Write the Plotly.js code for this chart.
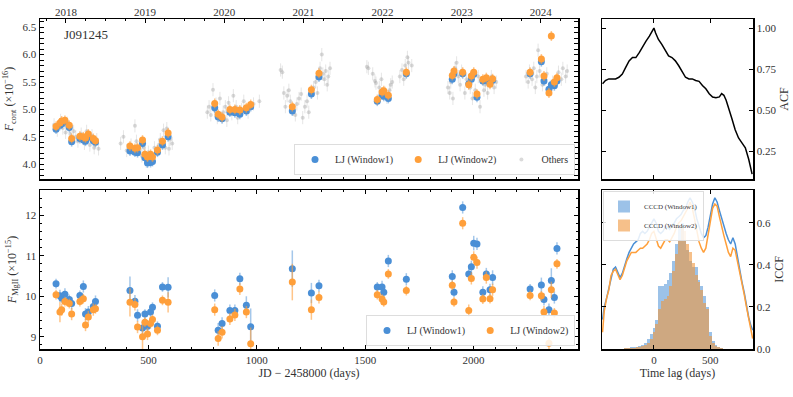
<!DOCTYPE html>
<html>
<head>
<meta charset="utf-8">
<script src="https://cdn.plot.ly/plotly-3.0.1.min.js"></script>
<style>
  html, body { margin: 0; padding: 0; background: #fff; }
  #chart { width: 793px; height: 397px; }
</style>
</head>
<body>
<div id="chart"></div>
<script>
// LJ epochs (JD - 2458000), shared by both windows
const ljDays = [
  74, 92, 100, 115, 135, 146, 184, 200, 210, 223, 246, 256,
  415, 438, 450, 473, 484, 496, 510, 519, 542, 565, 591,
  806, 822, 840, 876, 899, 922, 952, 972,
  1164, 1252, 1287,
  1556, 1578, 1586, 1607, 1690,
  1902, 1910, 1950, 1978, 1990, 2001, 2016, 2043, 2059, 2076, 2088,
  2261, 2313, 2325, 2348, 2359, 2373, 2385
];

// continuum flux (x1e-16)
const contW1 = [
  4.64, 4.71, 4.74, 4.77, 4.67, 4.41, 4.47, 4.44, 4.42, 4.49, 4.43, 4.40,
  4.24, 4.22, 4.21, 4.38, 4.12, 4.02, 4.03, 4.05, 4.22, 4.35, 4.50,
  5.03, 4.86, 4.83, 4.95, 4.94, 4.91, 4.97, 5.05,
  4.97, 5.28, 5.59,
  5.15, 5.26, 5.24, 5.20, 5.65,
  5.55, 5.65, 5.65, 5.47, 5.55, 5.64, 5.22, 5.52, 5.53, 5.49, 5.53,
  5.65, 5.87, 5.52, 5.37, 5.45, 5.43, 5.52
];
const contW2 = [
  4.69, 4.75, 4.79, 4.80, 4.71, 4.47, 4.51, 4.50, 4.48, 4.55, 4.47, 4.43,
  4.33, 4.29, 4.30, 4.44, 4.18, 4.13, 4.18, 4.13, 4.26, 4.42, 4.57,
  5.11, 4.91, 4.86, 5.00, 5.00, 4.99, 5.03, 5.09,
  5.05, 5.36, 5.66,
  5.18, 5.32, 5.34, 5.26, 5.68,
  5.62, 5.70, 5.68, 5.45, 5.61, 5.68, 5.28, 5.55, 5.58, 5.46, 5.56,
  5.68, 5.92, 5.61, 5.30, 6.34, 5.50, 5.58
];

// other surveys
const otherDays = [
  65, 80, 95, 105, 118, 125, 140, 155, 165, 175, 190, 205, 215, 230, 240, 250, 262, 270,
  372, 385, 400, 420, 438, 445, 460, 470, 480, 490, 500, 515, 528, 548, 555, 570, 578, 585, 595, 600, 610,
  772, 780, 788, 798, 805, 812, 818, 830, 845, 855, 862, 870, 885, 892, 905, 912, 930, 940, 960, 985, 1012,
  1110, 1118, 1125, 1132, 1140, 1148, 1155, 1170, 1178, 1185, 1195, 1205, 1212, 1222, 1232, 1240,
  1262, 1272, 1280, 1292, 1300, 1305, 1312, 1318, 1325, 1330, 1338,
  1508, 1515, 1535, 1545, 1550, 1565, 1575, 1592, 1600, 1612, 1618, 1625, 1660, 1670, 1678, 1685, 1695, 1700, 1715,
  1882, 1890, 1895, 1905, 1915, 1922, 1930, 1938, 1945, 1960, 1968, 1985, 1995, 2008, 2022, 2030, 2048, 2055, 2065, 2082, 2095, 2105,
  2242, 2252, 2258, 2270, 2278, 2285, 2292, 2298, 2305, 2318, 2330, 2338, 2352, 2365, 2392, 2405, 2412, 2425, 2432
];
const otherFlux = [
  4.72, 4.62, 4.80, 4.66, 4.58, 4.75, 4.55, 4.60, 4.50, 4.42, 4.55, 4.38, 4.60, 4.35, 4.52, 4.30, 4.45, 4.28,
  4.38, 4.50, 4.25, 4.35, 4.70, 4.42, 4.28, 4.15, 4.30, 4.05, 4.22, 4.10, 4.30, 4.35, 4.45, 4.62, 4.30, 4.65, 4.28, 4.45, 4.38,
  4.95, 5.05, 4.90, 5.36, 4.98, 5.10, 4.85, 5.20, 4.95, 5.05, 4.80, 5.12, 4.92, 5.25, 5.05, 4.85, 5.00, 5.15, 4.95, 5.10, 5.15,
  5.72, 5.68, 5.30, 5.05, 5.25, 5.35, 5.15, 5.00, 4.90, 5.10, 5.20, 5.28, 4.85, 5.05, 5.15, 4.95,
  5.40, 5.50, 5.30, 5.75, 6.00, 5.65, 5.55, 5.70, 5.45, 5.60, 5.75,
  5.78, 5.75, 5.65, 5.52, 5.48, 5.40, 5.55, 5.30, 5.22, 5.35, 5.45, 5.50, 5.60, 5.72, 5.55, 5.80, 5.95, 5.85, 5.80,
  5.40, 5.30, 5.50, 5.20, 5.75, 5.85, 5.60, 5.45, 5.70, 5.30, 5.55, 5.40, 5.20, 5.35, 5.60, 5.05, 5.35, 5.45, 5.30, 5.60, 5.40, 5.50,
  5.60, 5.50, 5.70, 5.55, 5.75, 5.40, 5.60, 6.08, 5.70, 5.45, 5.55, 5.65, 5.40, 5.50, 5.68, 5.55, 5.75, 5.60, 5.70
];

// MgII flux (x1e-15)
const mgW1 = [
  10.31, 10.01, 9.96, 10.05, 9.92, 9.82, 10.02, 10.24, 9.56, 9.61, 9.75, 9.87,
  10.14, 9.88, 9.53, 9.22, 9.56, 9.26, 9.61, 9.73, 9.26, 10.23, 10.22,
  10.02, 9.16, 9.33, 9.65, 9.65, 10.43, 9.78, 9.25,
  10.68, 10.08, 10.26,
  10.23, 10.23, 10.10, 10.87, 10.42,
  10.49, 10.10, 12.19, 10.55, 10.73, 11.31, 11.29, 10.10, 10.55, 10.16, 10.46,
  10.18, 10.28, 9.92, 9.67, 10.39, 9.97, 11.18
];
const mgW1Err = [
  0.12, 0.15, 0.12, 0.15, 0.12, 0.15, 0.12, 0.15, 0.15, 0.15, 0.15, 0.15,
  0.35, 0.15, 0.15, 0.15, 0.12, 0.15, 0.12, 0.12, 0.12, 0.12, 0.25,
  0.15, 0.18, 0.15, 0.15, 0.15, 0.15, 0.22, 0.45,
  0.45, 0.25, 0.15,
  0.12, 0.15, 0.15, 0.15, 0.15,
  0.15, 0.12, 0.15, 0.15, 0.15, 0.18, 0.15, 0.15, 0.15, 0.15, 0.18,
  0.12, 0.18, 0.15, 0.15, 0.3, 0.15, 0.15
];
const mgW2 = [
  10.04, 9.61, 9.67, 9.87, 9.82, 9.56, 9.87, 9.94, 9.29, 9.49, 9.67, 9.69,
  9.85, 9.80, 9.24, 9.00, 9.36, 9.07, 9.33, 9.43, 9.16, 9.90, 9.85,
  9.67, 8.96, 9.11, 9.44, 9.54, 10.18, 9.61, 8.83,
  10.35, 9.67, 9.97,
  10.04, 9.93, 9.86, 10.55, 10.14,
  10.27, 9.86, 11.80, 9.65, 10.44, 10.96, 10.83, 9.93, 10.46, 9.94, 10.16,
  10.02, 10.01, 9.61, 8.84, 10.16, 9.59, 10.80
];
const mgW2Err = [
  0.12, 0.25, 0.15, 0.12, 0.12, 0.15, 0.12, 0.12, 0.15, 0.15, 0.15, 0.12,
  0.35, 0.15, 0.15, 0.3, 0.12, 0.15, 0.12, 0.12, 0.12, 0.12, 0.25,
  0.15, 0.18, 0.15, 0.15, 0.15, 0.15, 0.15, 0.4,
  0.45, 0.25, 0.15,
  0.12, 0.12, 0.12, 0.12, 0.12,
  0.12, 0.12, 0.15, 0.15, 0.15, 0.15, 0.15, 0.12, 0.15, 0.12, 0.15,
  0.12, 0.12, 0.15, 0.15, 0.2, 0.12, 0.12
];

// top axis calendar years
const yearLabels = ["2018", "2019", "2020", "2021", "2022", "2023", "2024"];
const yearDays = [119.5, 484.5, 849.5, 1215.5, 1580.5, 1945.5, 2310.5];

// continuum ACF
const acfLag = [
  -455, -430, -400, -370, -340, -310, -280, -250, -220, -190, -160, -130, -100, -70, -40, -15, 0,
  15, 40, 70, 100, 130, 160, 190, 220, 250, 280, 310, 340, 370, 400, 430, 460, 490, 520, 550,
  580, 600, 620, 640, 660, 690, 720, 750, 780, 810, 840, 870
];
const acf = [
  0.66, 0.68, 0.69, 0.69, 0.69, 0.70, 0.72, 0.76, 0.80, 0.82, 0.82, 0.85, 0.89, 0.92, 0.95, 0.98, 1.00,
  0.97, 0.93, 0.90, 0.86, 0.83, 0.82, 0.80, 0.77, 0.73, 0.70, 0.69, 0.69, 0.68, 0.675, 0.65, 0.63, 0.60, 0.58, 0.575,
  0.58, 0.60, 0.59, 0.56, 0.52, 0.45, 0.38, 0.33, 0.30, 0.27, 0.20, 0.11
];

// ICCF
const iccfLag = [
  -455, -440, -420, -400, -380, -360, -340, -320, -300, -280, -260, -240, -220, -200, -180, -160, -140, -120,
  -100, -80, -60, -40, -20, 0, 20, 40, 60, 80, 100, 120, 140, 160, 180, 200, 220, 240, 260, 280, 300, 320,
  340, 360, 380, 400, 420, 440, 460, 480, 500, 520, 540, 560, 580, 600, 620, 640, 660, 680, 700, 720,
  740, 760, 780, 800, 820, 840, 860, 875
];
const iccfW1 = [
  0.14, 0.20, 0.24, 0.29, 0.34, 0.38, 0.39, 0.36, 0.34, 0.36, 0.40, 0.43, 0.46, 0.48, 0.50, 0.51, 0.52, 0.55,
  0.56, 0.55, 0.56, 0.58, 0.60, 0.62, 0.60, 0.56, 0.55, 0.56, 0.58, 0.58, 0.57, 0.59, 0.60, 0.62, 0.63, 0.64, 0.66, 0.67, 0.70, 0.72,
  0.70, 0.67, 0.62, 0.58, 0.55, 0.53, 0.54, 0.58, 0.63, 0.69, 0.72, 0.70, 0.66, 0.62, 0.58, 0.55, 0.52, 0.50, 0.53, 0.50,
  0.44, 0.37, 0.32, 0.27, 0.20, 0.15, 0.11, 0.09
];
const iccfW2 = [
  0.08, 0.18, 0.24, 0.28, 0.35, 0.37, 0.38, 0.35, 0.33, 0.35, 0.39, 0.42, 0.44, 0.46, 0.46, 0.46, 0.47, 0.48,
  0.48, 0.49, 0.50, 0.52, 0.55, 0.56, 0.52, 0.49, 0.48, 0.50, 0.52, 0.52, 0.51, 0.53, 0.55, 0.58, 0.60, 0.61, 0.63, 0.65, 0.67, 0.70,
  0.67, 0.62, 0.56, 0.51, 0.48, 0.46, 0.48, 0.54, 0.61, 0.67, 0.69, 0.68, 0.63, 0.58, 0.54, 0.50, 0.46, 0.44, 0.48, 0.47,
  0.42, 0.36, 0.31, 0.26, 0.20, 0.14, 0.09, 0.05
];

// CCCD histograms (scaled to ICCF axis)
const cccdBins = [
  -250, -225, -200, -175, -150, -125, -100, -75, -50, -25, 0, 25, 50, 75, 100, 125, 150, 175, 200,
  225, 250, 275, 300, 325, 350, 375, 400, 425, 450, 475, 500, 525, 550, 575, 600
];
const cccdW1 = [
  0.005, 0.005, 0.008, 0.01, 0.01, 0.015, 0.02, 0.03, 0.05, 0.07, 0.10, 0.14, 0.30, 0.30, 0.31, 0.33, 0.36, 0.42, 0.50,
  0.58, 0.60, 0.52, 0.47, 0.42, 0.39, 0.39, 0.33, 0.30, 0.25, 0.20, 0.08, 0.04, 0.02, 0.01, 0.005
];
const cccdW2 = [
  0.003, 0.005, 0.005, 0.005, 0.008, 0.01, 0.015, 0.02, 0.03, 0.05, 0.08, 0.12, 0.19, 0.23, 0.24, 0.25, 0.30, 0.37, 0.45,
  0.52, 0.58, 0.56, 0.50, 0.46, 0.41, 0.35, 0.32, 0.28, 0.22, 0.19, 0.06, 0.03, 0.015, 0.01, 0.005
];

const BLUE = "#4a8fd6";
const ORANGE = "#ff9f3a";
const FONT = "Liberation Serif, DejaVu Serif, serif";
const TXT = "#333";

const px = (v) => v / 793;
const py = (v) => 1 - v / 397;

const traces = [
  {
    x: otherDays, y: otherFlux, name: "Others", type: "scatter", mode: "markers",
    xaxis: "x", yaxis: "y", legend: "legend", legendrank: 3,
    marker: { color: "rgba(150,150,150,0.35)", size: 4 },
    error_y: { type: "constant", value: 0.12, color: "rgba(170,170,170,0.3)", thickness: 1, width: 0 },
  },
  {
    x: ljDays, y: contW1, name: "LJ (Window1)", type: "scatter", mode: "markers",
    xaxis: "x", yaxis: "y", legend: "legend", legendrank: 1,
    marker: { color: BLUE, size: 7 },
    error_y: { type: "constant", value: 0.09, color: "rgba(74,143,214,0.5)", thickness: 1.5, width: 0 },
  },
  {
    x: ljDays, y: contW2, name: "LJ (Window2)", type: "scatter", mode: "markers",
    xaxis: "x", yaxis: "y", legend: "legend", legendrank: 2,
    marker: { color: ORANGE, size: 7 },
    error_y: { type: "constant", value: 0.09, color: "rgba(255,159,58,0.6)", thickness: 1.5, width: 0 },
  },
  {
    // carries the calendar-year axis on top of the continuum panel
    x: yearDays, y: yearDays.map(() => null), type: "scatter", mode: "markers",
    xaxis: "x5", yaxis: "y", showlegend: false, hoverinfo: "skip",
  },
  {
    x: ljDays, y: mgW1, name: "LJ (Window1)", type: "scatter", mode: "markers",
    xaxis: "x2", yaxis: "y2", legend: "legend2",
    marker: { color: BLUE, size: 7 },
    error_y: { type: "data", array: mgW1Err, color: "rgba(74,143,214,0.5)", thickness: 1.5, width: 0 },
  },
  {
    x: ljDays, y: mgW2, name: "LJ (Window2)", type: "scatter", mode: "markers",
    xaxis: "x2", yaxis: "y2", legend: "legend2",
    marker: { color: ORANGE, size: 7 },
    error_y: { type: "data", array: mgW2Err, color: "rgba(255,159,58,0.6)", thickness: 1.5, width: 0 },
  },
  {
    x: acfLag, y: acf, type: "scatter", mode: "lines", showlegend: false,
    xaxis: "x3", yaxis: "y3", line: { color: "#000", width: 1.5 },
  },
  {
    x: cccdBins, y: cccdW1, name: "CCCD (Window1)", type: "bar", width: 25,
    xaxis: "x4", yaxis: "y4", legend: "legend3",
    marker: { color: "rgba(74,143,214,0.55)", line: { width: 0 } },
  },
  {
    x: cccdBins, y: cccdW2, name: "CCCD (Window2)", type: "bar", width: 25,
    xaxis: "x4", yaxis: "y4", legend: "legend3",
    marker: { color: "rgba(240,150,60,0.6)", line: { width: 0 } },
  },
  {
    x: iccfLag, y: iccfW1, type: "scatter", mode: "lines", showlegend: false,
    xaxis: "x4", yaxis: "y4", line: { color: BLUE, width: 1.5 },
  },
  {
    x: iccfLag, y: iccfW2, type: "scatter", mode: "lines", showlegend: false,
    xaxis: "x4", yaxis: "y4", line: { color: ORANGE, width: 1.5 },
  },
];

const axisBase = {
  showgrid: false, zeroline: false, showline: true, linecolor: "#000", linewidth: 1.5,
  ticks: "inside", ticklen: 4, tickcolor: "#000", tickwidth: 1,
  tickfont: { family: FONT, size: 11, color: TXT }, automargin: false,
};
const titleFont = { family: FONT, size: 12, color: TXT };

const leftX = [px(40), px(578)];
const rightX = [px(602), px(753)];
const topY = [py(179), py(19)];
const botY = [py(349), py(190)];
const jdRange = [0, 2482];
const lagRange = [-460, 878];

const legendBox = {
  bgcolor: "rgba(255,255,255,0.85)", bordercolor: "#ddd", borderwidth: 1,
  font: { family: FONT, size: 10, color: TXT }, itemwidth: 30,
};

const layout = {
  width: 793, height: 397,
  margin: { l: 0, r: 0, t: 0, b: 0 },
  paper_bgcolor: "#fff", plot_bgcolor: "#fff",
  font: { family: FONT, size: 11, color: TXT },
  barmode: "overlay", bargap: 0,
  xaxis: {
    ...axisBase, domain: leftX, anchor: "y", range: jdRange, dtick: 500,
    showticklabels: false, mirror: true,
    minor: { ticks: "inside", ticklen: 2, dtick: 100, tickcolor: "#000" },
  },
  xaxis5: {
    ...axisBase, overlaying: "x", anchor: "y", side: "top", range: jdRange,
    tickmode: "array", tickvals: yearDays, ticktext: yearLabels, showline: false,
    minor: { ticks: "inside", ticklen: 2, tick0: 119.5, dtick: 91.3, tickcolor: "#000" },
  },
  yaxis: {
    ...axisBase, domain: topY, anchor: "x", range: [3.73, 6.65], dtick: 0.5, tickformat: ".1f",
    mirror: "allticks",
    minor: { ticks: "inside", ticklen: 2, dtick: 0.1, tickcolor: "#000" },
    title: { text: "<i>F</i><sub>cont</sub> (×10<sup>−16</sup>)", standoff: 6, font: titleFont },
  },
  xaxis2: {
    ...axisBase, domain: leftX, anchor: "y2", range: jdRange, dtick: 500, mirror: "allticks",
    minor: { ticks: "inside", ticklen: 2, dtick: 100, tickcolor: "#000" },
    title: { text: "JD − 2458000 (days)", standoff: 4, font: titleFont },
  },
  yaxis2: {
    ...axisBase, domain: botY, anchor: "x2", range: [8.7, 12.62], dtick: 1, mirror: "allticks",
    minor: { ticks: "inside", ticklen: 2, dtick: 0.2, tickcolor: "#000" },
    title: { text: "<i>F</i><sub>MgII</sub> (×10<sup>−15</sup>)", standoff: 6, font: titleFont },
  },
  xaxis3: {
    ...axisBase, domain: rightX, anchor: "y3", range: lagRange, dtick: 500, showticklabels: false, mirror: "ticks",
  },
  yaxis3: {
    ...axisBase, domain: topY, anchor: "x3", side: "right", range: [0.08, 1.055], dtick: 0.25, tickformat: ".2f",
    mirror: "ticks",
    title: { text: "ACF", standoff: 4, font: titleFont },
  },
  xaxis4: {
    ...axisBase, domain: rightX, anchor: "y4", range: lagRange, dtick: 500, mirror: "ticks",
    title: { text: "Time lag (days)", standoff: 4, font: titleFont },
  },
  yaxis4: {
    ...axisBase, domain: botY, anchor: "x4", side: "right", range: [0, 0.757], dtick: 0.2, tickformat: ".1f",
    mirror: "ticks",
    title: { text: "ICCF", standoff: 4, font: titleFont },
  },
  legend: {
    ...legendBox, orientation: "h", x: px(575), y: py(175), xanchor: "right", yanchor: "bottom",
  },
  legend2: {
    ...legendBox, orientation: "h", x: px(575), y: py(346), xanchor: "right", yanchor: "bottom",
  },
  legend3: {
    ...legendBox, x: px(603), y: py(191), xanchor: "left", yanchor: "top",
    font: { family: FONT, size: 7, color: TXT }, tracegroupgap: 0,
  },
  annotations: [
    {
      text: "J091245", xref: "paper", yref: "paper", x: px(62), y: py(34),
      xanchor: "left", yanchor: "middle", showarrow: false,
      font: { family: FONT, size: 13, color: TXT },
    },
  ],
};

Plotly.newPlot("chart", traces, layout, { displayModeBar: false, staticPlot: true });
</script>
</body>
</html>
